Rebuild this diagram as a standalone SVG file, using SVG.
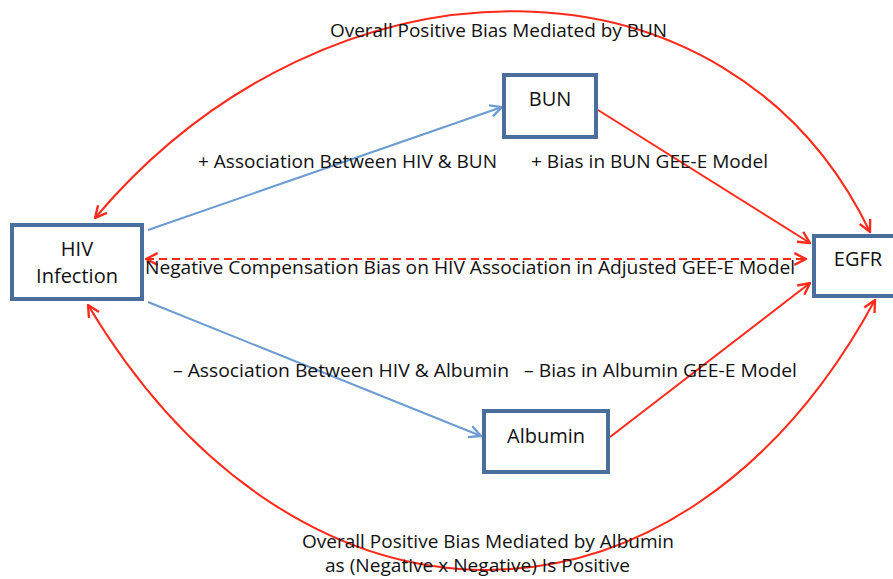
<svg xmlns="http://www.w3.org/2000/svg" width="893" height="579" viewBox="0 0 893 579">
<style>
.box{fill:#fff;stroke:#4a6f9c;stroke-width:4}
.t{font-family:"Open Sans","Liberation Sans",sans-serif;font-size:18px;fill:#111}
.n{font-size:20px}
.c{text-anchor:middle}
.red{fill:none;stroke:#ff2a1a;stroke-width:2}
.blue{fill:none;stroke:#6c9bd2;stroke-width:2}
</style>
<defs>
<marker id="ar" viewBox="0 0 12 12" refX="11" refY="6" markerWidth="14" markerHeight="14" markerUnits="userSpaceOnUse" orient="auto-start-reverse">
<path d="M1,1 L11,6 L1,11" fill="none" stroke="#ff2a1a" stroke-width="2"/>
</marker>
<marker id="ab" viewBox="0 0 12 12" refX="11" refY="6" markerWidth="14" markerHeight="14" markerUnits="userSpaceOnUse" orient="auto">
<path d="M1,1 L11,6 L1,11" fill="none" stroke="#6c9bd2" stroke-width="2"/>
</marker>
</defs>
<g id="connectors">
<path class="red" d="M95,218 C330,-60 730,-60 870,232" marker-start="url(#ar)" marker-end="url(#ar)"/>
<path class="red" d="M88,305 C300,659 680,659 875,300" marker-start="url(#ar)" marker-end="url(#ar)"/>
<line class="blue" x1="148" y1="230" x2="502" y2="107" marker-end="url(#ab)"/>
<line class="blue" x1="148" y1="302" x2="481" y2="436" marker-end="url(#ab)"/>
<line class="red" x1="598" y1="110" x2="810" y2="243" marker-end="url(#ar)"/>
<line class="red" x1="610" y1="437" x2="810" y2="283" marker-end="url(#ar)"/>
<line class="red" x1="146" y1="259" x2="806" y2="259" stroke-dasharray="8,5" marker-start="url(#ar)" marker-end="url(#ar)"/>
</g>
<g id="hiv">
<rect class="box" x="12" y="225" width="130" height="74"/>
<text class="t n c" x="77" y="256">HIV</text>
<text class="t n c" x="77" y="283">Infection</text>
</g>
<g id="bun">
<rect class="box" x="504" y="75" width="92" height="62"/>
<text class="t n c" x="550" y="106">BUN</text>
</g>
<g id="albumin">
<rect class="box" x="484" y="411" width="124" height="61"/>
<text class="t n c" x="546" y="443">Albumin</text>
</g>
<g id="egfr">
<rect class="box" x="814" y="236" width="90" height="60"/>
<text class="t n c" x="858" y="266">EGFR</text>
</g>
<g id="labels">
<text class="t" x="330" y="37" textLength="337" lengthAdjust="spacingAndGlyphs">Overall Positive Bias Mediated by BUN</text>
<text class="t" x="198" y="168" textLength="299" lengthAdjust="spacingAndGlyphs">+ Association Between HIV &amp; BUN</text>
<text class="t" x="531" y="168" textLength="237" lengthAdjust="spacingAndGlyphs">+ Bias in BUN GEE-E Model</text>
<text class="t" x="145" y="274" textLength="650" lengthAdjust="spacingAndGlyphs">Negative Compensation Bias on HIV  Association in Adjusted GEE-E Model</text>
<text class="t" x="173" y="377" textLength="336" lengthAdjust="spacingAndGlyphs">– Association Between HIV &amp; Albumin</text>
<text class="t" x="524" y="377" textLength="273" lengthAdjust="spacingAndGlyphs">– Bias in Albumin GEE-E Model</text>
<text class="t" x="302" y="548" textLength="372" lengthAdjust="spacingAndGlyphs">Overall Positive Bias Mediated by Albumin</text>
<text class="t" x="325" y="572" textLength="305" lengthAdjust="spacingAndGlyphs">as (Negative x Negative) Is Positive</text>
</g>
</svg>
